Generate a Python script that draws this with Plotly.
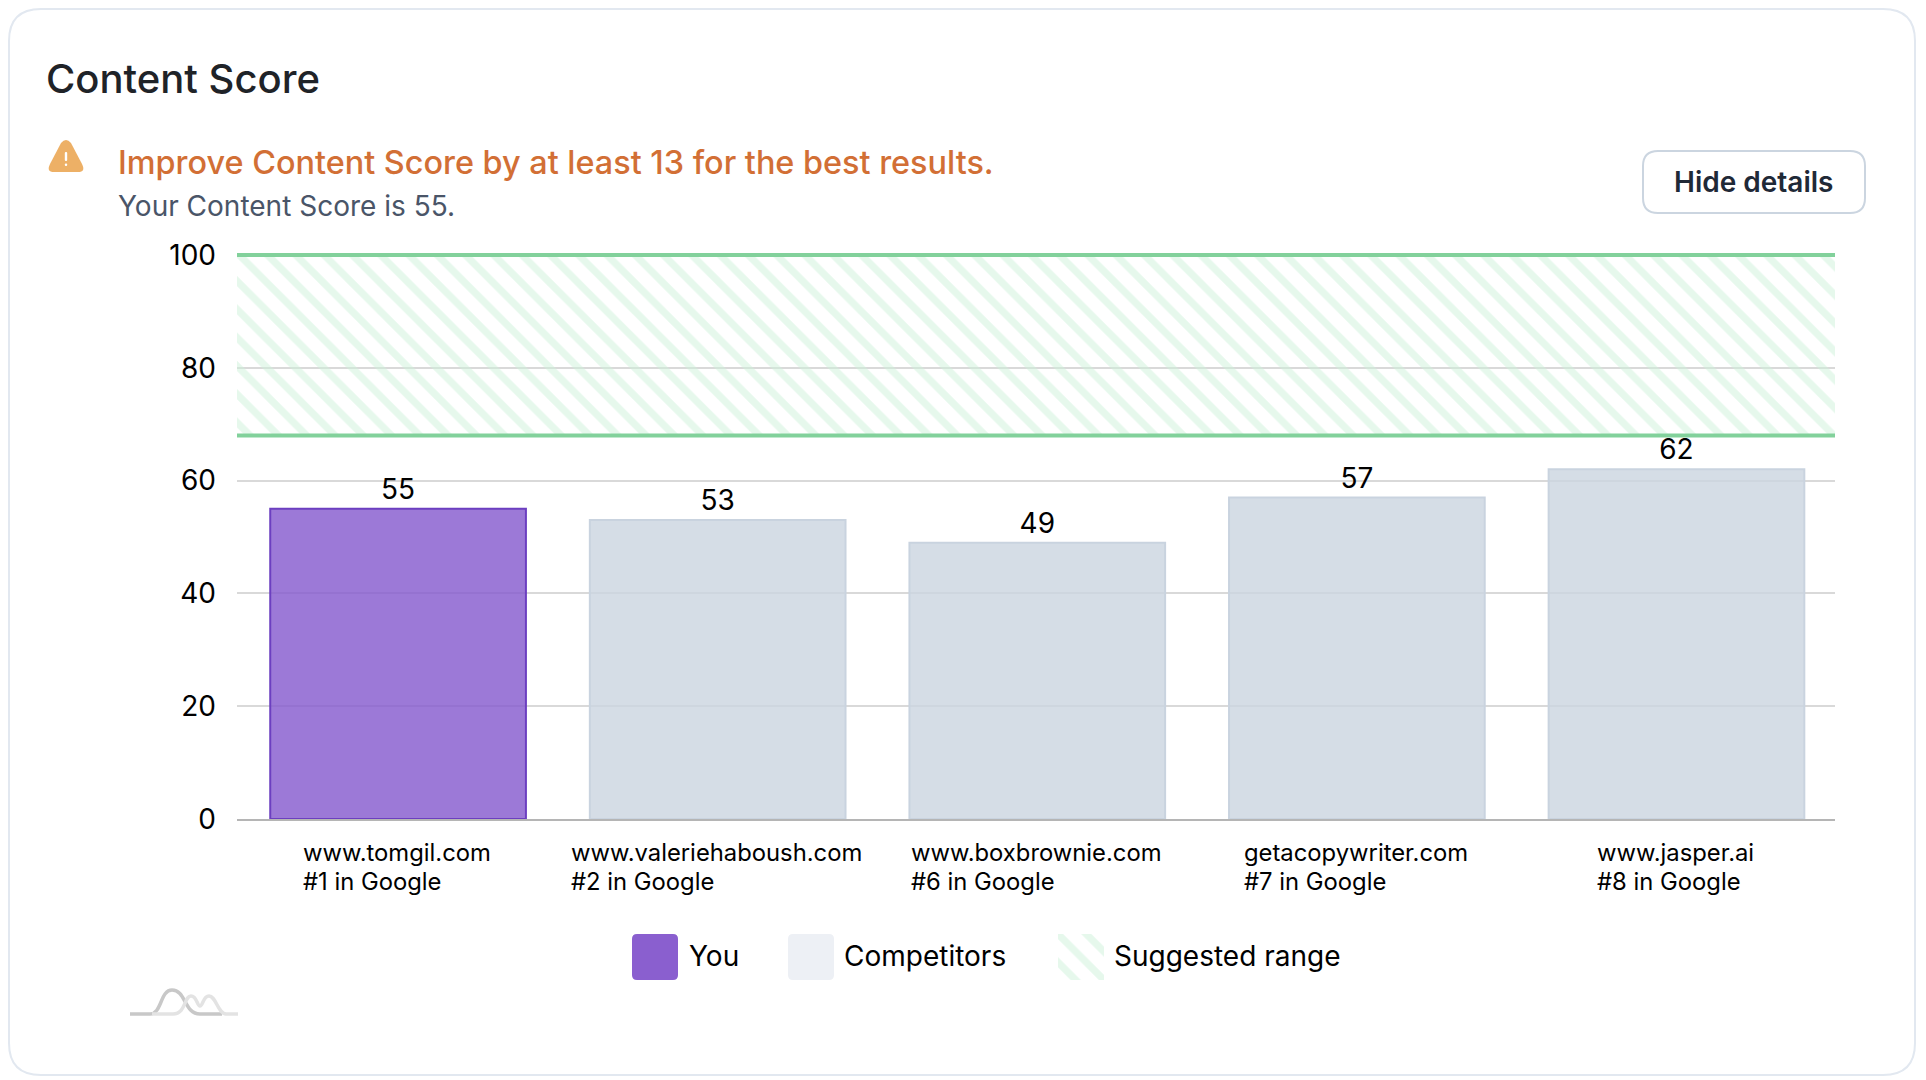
import plotly.graph_objects as go

W = 1910
H = 1072
PAGE_MARGIN = 8  # отступ body в странице

# данные графика
sites = ['www.tomgil.com', 'www.valeriehaboush.com', 'www.boxbrownie.com', 'getacopywriter.com', 'www.jasper.ai']
ranks = ['#1 in Google', '#2 in Google', '#6 in Google', '#7 in Google', '#8 in Google']
scores = [55, 53, 49, 57, 62]
is_you = [True, False, False, False, False]
range_low = 68
range_high = 100
y_ticks = [0, 20, 40, 60, 80, 100]
legend_labels = ['You', 'Competitors', 'Suggested range']

FONT = 'Inter'
GREEN_LINE = '#82d19b'
GREEN_HATCH = '#cdf1da'
# сдвиг начала подписи от центра столбца
label_shift = [-95, -146, -126, -113, -79]


def px(x):
    return (x - PAGE_MARGIN) / W


def py(y):
    return 1 - (y - PAGE_MARGIN) / H


# скруглённый прямоугольник в пикселях страницы
def round_rect(x0, y0, x1, y1, r):
    return (f'M {px(x0 + r)} {py(y0)} L {px(x1 - r)} {py(y0)} '
            f'Q {px(x1)} {py(y0)} {px(x1)} {py(y0 + r)} L {px(x1)} {py(y1 - r)} '
            f'Q {px(x1)} {py(y1)} {px(x1 - r)} {py(y1)} L {px(x0 + r)} {py(y1)} '
            f'Q {px(x0)} {py(y1)} {px(x0)} {py(y1 - r)} L {px(x0)} {py(y0 + r)} '
            f'Q {px(x0)} {py(y0)} {px(x0 + r)} {py(y0)} Z')


def page_path(points):
    out = []
    for p in points:
        if isinstance(p, str):
            out.append(p)
        else:
            out.append(f'{px(p[0])} {py(p[1])}')
    return ' '.join(out)


def box(path, fill='rgba(0,0,0,0)', line='rgba(0,0,0,0)', width=0):
    return dict(type='path', xref='paper', yref='paper', path=path, fillcolor=fill,
                line=dict(color=line, width=width), layer='above')


def label(x, y, text, size, color='#000000', weight=400, anchor='left'):
    return dict(xref='paper', yref='paper', x=px(x), y=py(y), text=text, showarrow=False,
                xanchor=anchor, yanchor='middle', borderpad=0,
                font=dict(family=FONT, size=size, color=color, weight=weight))


fig = go.Figure()

# полоса рекомендуемого диапазона
hatch = dict(shape='\\', size=20, solidity=0.36, fgcolor=GREEN_HATCH, bgcolor='rgba(255,255,255,0)')
fig.add_trace(go.Scatter(
    x=[-0.5, 4.5, 4.5, -0.5], y=[range_low, range_low, range_high, range_high],
    mode='none', fill='toself', fillcolor='rgba(255,255,255,0)', fillpattern=hatch,
    hoverinfo='skip', showlegend=False))

# столбцы
fig.add_trace(go.Bar(
    x=list(range(len(scores))), y=scores, width=0.8, offset=-0.396,
    text=[str(s) for s in scores], textposition='outside', cliponaxis=False,
    textfont=dict(family=FONT, size=28, color='#000000'),
    marker=dict(color=['rgba(131,88,205,0.8)' if y else 'rgba(203,213,224,0.8)' for y in is_you],
                line=dict(color=['#6c3fc0' if y else '#c9d3df' for y in is_you], width=2)),
    showlegend=False))

# границы диапазона
for level in [range_low, range_high]:
    fig.add_trace(go.Scatter(x=[-0.5, 4.5], y=[level, level], mode='lines', cliponaxis=False,
                             line=dict(color=GREEN_LINE, width=4), hoverinfo='skip', showlegend=False))

# штриховка в легенде
fig.add_trace(go.Scatter(
    x=[0, 1, 1, 0], y=[0, 0, 1, 1], xaxis='x2', yaxis='y2',
    mode='none', fill='toself', fillcolor='rgba(255,255,255,0)', fillpattern=hatch,
    hoverinfo='skip', showlegend=False))

annotations = [
    label(45, 78, 'Content Score', 40, '#1f2328', 500),
    label(117, 162, 'Improve Content Score by at least 13 for the best results.', 32.4, '#d26f35', 500),
    label(117, 206, 'Your Content Score is 55.', 28, '#4a5568'),
    label(1753, 182, 'Hide details', 28, '#1f2937', 600, 'center'),
    label(688, 956, legend_labels[0], 28),
    label(843, 956, legend_labels[1], 28),
    label(1113, 956, legend_labels[2], 28),
]
for i in range(len(sites)):
    for line_text, line_y in [(sites[i], 852), (ranks[i], 881.5)]:
        annotations.append(dict(xref='x', yref='paper', x=i, y=py(line_y), text=line_text, xshift=label_shift[i],
                                showarrow=False, xanchor='left', yanchor='middle', borderpad=0,
                                font=dict(family=FONT, size=23.8, color='#000000')))

shapes = [
    # слева и сверху рамка упирается в край рисунка
    box(round_rect(9, 9, 1915, 1075, 32), line='#e2e8f0', width=2),
    box(round_rect(1643, 151, 1865, 213, 15), line='#cbd5e0', width=2),
    # значок предупреждения
    box(page_path(['M', (61, 143), 'Q', (66, 137), (71, 143), 'L', (82, 164), 'Q', (86, 172), (78, 172),
                   'L', (54, 172), 'Q', (46, 172), (50, 164), 'Z']), fill='#edb066'),
    box(round_rect(64.8, 152, 67.2, 161, 1), fill='#ffffff'),
    box(round_rect(64.8, 163.5, 67.2, 166, 1), fill='#ffffff'),
    # значки легенды
    box(round_rect(632, 934, 678, 980, 5), fill='#8a5fcf'),
    box(round_rect(788, 934, 834, 980, 5), fill='#edf0f5'),
    # логотип
    box(page_path(['M', (130, 1014), 'L', (150, 1014), 'C', (162, 1014), (160, 990), (172, 990),
                   'C', (186, 990), (184, 1014), (200, 1014), 'L', (222, 1014)]), line='#c8c8c8', width=3.5),
    box(page_path(['M', (152, 1014), 'L', (173, 1014), 'C', (186, 1014), (184, 996), (191, 996),
                   'C', (197, 996), (197, 1006), (200, 1006), 'C', (203, 1006), (203, 996), (209, 996),
                   'C', (216, 996), (218, 1014), (226, 1014), 'L', (238, 1014)]), line='#e3e3e3', width=3.5),
]

fig.update_layout(
    width=W, height=H, margin=dict(l=0, r=0, t=0, b=0, autoexpand=False),
    paper_bgcolor='#ffffff', plot_bgcolor='#ffffff',
    font=dict(family=FONT, size=28, color='#000000'),
    bargap=0.2, annotations=annotations, shapes=shapes,
    xaxis=dict(domain=[px(237), px(1835)], range=[-0.5, 4.5], showgrid=False, showticklabels=False, automargin=False,
               zeroline=False, showline=True, linecolor='#b5b5b5', linewidth=2, ticks=''),
    # верх оси чуть выше 100, чтобы линию на 100 не обрезало
    yaxis=dict(domain=[py(819), py(252.74)], range=[0, 100.4], tickvals=y_ticks, showgrid=True, automargin=False,
               gridcolor='#d9d9d9', gridwidth=1.5, zeroline=False, ticks='', ticklabelstandoff=20,
               tickfont=dict(family=FONT, size=28, color='#000000')),
    xaxis2=dict(domain=[px(1058), px(1104)], range=[0, 1], visible=False, anchor='y2'),
    yaxis2=dict(domain=[py(980), py(934)], range=[0, 1], visible=False, anchor='x2'),
)

fig.write_html("out.html")
